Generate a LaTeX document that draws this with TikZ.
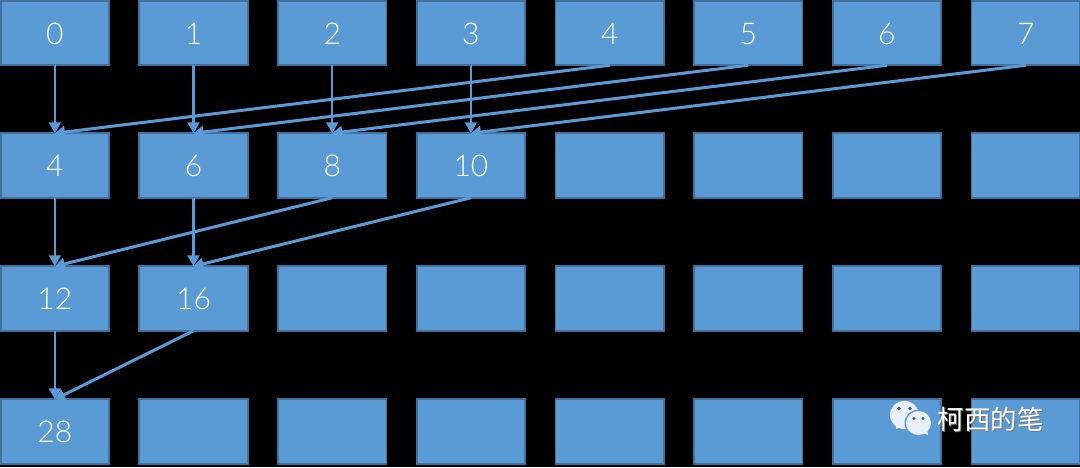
\documentclass[tikz,border=0pt]{standalone}
\usepackage{fontspec}
\setmainfont{Lato Light}
\newfontfamily\cjkfont{Noto Sans CJK SC}
\usetikzlibrary{arrows.meta}
\definecolor{boxfill}{HTML}{5B9BD5}
\definecolor{boxedge}{HTML}{41719C}
\definecolor{iconfill}{HTML}{E9F0F8}
\tikzset{
  cell/.style={draw=boxedge,fill=boxfill,line width=1.8pt,minimum width=108.5pt,minimum height=64.5pt,inner sep=0pt,outer sep=0pt},
  digit/.style={text=white,font=\fontsize{30}{30}\selectfont,inner sep=0pt,yshift=-0.7pt},
  drop/.style={draw=boxfill,line width=2.2pt,-{Triangle[length=11pt,width=12pt]}},
  slant/.style={draw=boxfill,line width=3pt,-{Triangle[length=10pt,width=12pt]}},
}
\begin{document}
\begin{tikzpicture}[x=1pt,y=-1pt]
\fill[black] (0,0) rectangle (1080,467);
\useasboundingbox (0,0) rectangle (1080,467);
% rows
\foreach \r/\yy in {a/33,b/165.5,c/298.5,d/431.5}{
  \foreach \c/\xx in {0/54.9,1/193.5,2/332.2,3/470.9,4/609.7,5/748.2,6/886.9,7/1025.7}{
    \node[cell] (\r\c) at (\xx,\yy) {};
  }
}
% labels
\foreach \c/\t in {0/0,1/1,2/2,3/3,4/4,5/5,6/6,7/7}{\node[digit] (la\c) at (a\c) {\t};}
\foreach \c/\t in {0/4,1/6,2/8,3/10}{\node[digit] (lb\c) at (b\c) {\t};}
\foreach \c/\t in {0/12,1/16}{\node[digit] (lc\c) at (c\c) {\t};}
\node[digit] (ld0) at (d0) {28};
% connectors
\foreach \c in {0,1,2,3}{\draw[drop] (a\c.south) -- (b\c.north);}
\draw[slant] (a4.south) -- (b0.north);
\draw[slant] (a5.south) -- (b1.north);
\draw[slant] (a6.south) -- (b2.north);
\draw[slant] (a7.south) -- (b3.north);
\foreach \c in {0,1}{\draw[drop] (b\c.south) -- (c\c.north);}
\draw[slant] (b2.south) -- (c0.north);
\draw[slant] (b3.south) -- (c1.north);
\draw[drop] (c0.south) -- (d0.north);
\draw[slant] (c1.south) -- (d0.north);
% watermark icon
\fill[iconfill] (904.5,415) ellipse [x radius=14.5,y radius=14];
\fill[iconfill] (896,425) -- (896,429) -- (905,426) -- cycle;
\fill[boxfill!60!black] (899,408.5) circle (1.8);
\fill[boxfill!60!black] (910,408.5) circle (1.8);
\fill[boxfill] (918.5,423) ellipse [x radius=14,y radius=13.5];
\fill[iconfill] (918.5,423) ellipse [x radius=12.5,y radius=12];
\fill[iconfill] (921,432) -- (928,435) -- (927,428) -- cycle;
\fill[boxfill!60!black] (914,418.5) circle (1.7);
\fill[boxfill!60!black] (923,418.5) circle (1.7);
% watermark text
\node[text=black!55,font=\cjkfont\fontsize{26.5}{26.5}\selectfont,inner sep=0pt,anchor=west] (wms) at (938.3,420.3) {柯西的笔};
\node[text=white,font=\cjkfont\fontsize{26.5}{26.5}\selectfont,inner sep=0pt,anchor=west] (wm) at (937.5,419.5) {柯西的笔};
\end{tikzpicture}
\end{document}
